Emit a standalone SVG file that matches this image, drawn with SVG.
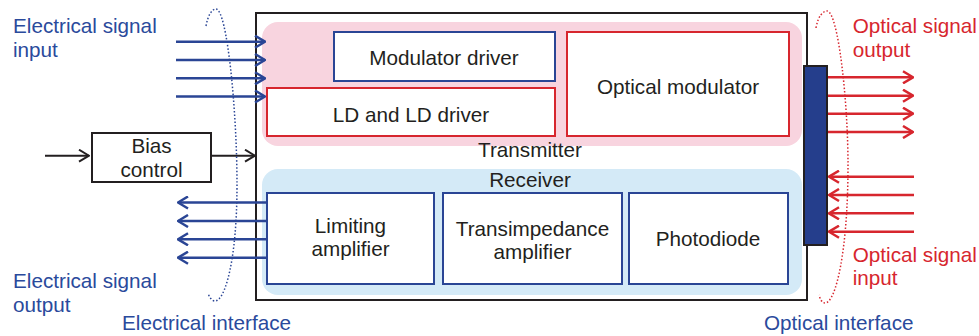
<svg xmlns="http://www.w3.org/2000/svg" width="979" height="336" viewBox="0 0 979 336">
<style>
text{font-family:"Liberation Sans",Arial,Helvetica,sans-serif;font-size:20.7px}
.k{fill:#231f20}
.bt{fill:#2a4a9c}
.rt{fill:#d7262e}
.bx{fill:#fff;stroke-width:2}
.bb{stroke:#2a4595}
.rb{stroke:#d7262e}
.ab{stroke:#2a4595;stroke-width:2.5;fill:none}
.ar{stroke:#d7262e;stroke-width:2.5;fill:none}
.ak{stroke:#231f20;stroke-width:2;fill:none}
.dot{fill:none;stroke-width:1.5;stroke-dasharray:1.5 2}
</style>
<defs>
<marker id="mb" viewBox="0 0 12 14" refX="11" refY="7" markerWidth="12" markerHeight="14" markerUnits="userSpaceOnUse" orient="auto"><path d="M1,1 L11,7 L1,13" fill="none" stroke="#2a4595" stroke-width="2.5"/></marker>
<marker id="mr" viewBox="0 0 12 14" refX="11" refY="7" markerWidth="12" markerHeight="14" markerUnits="userSpaceOnUse" orient="auto"><path d="M1,1 L11,7 L1,13" fill="none" stroke="#d7262e" stroke-width="2.5"/></marker>
<marker id="mk" viewBox="0 0 12 14" refX="11" refY="7" markerWidth="12" markerHeight="14" markerUnits="userSpaceOnUse" orient="auto"><path d="M1,1 L11,7 L1,13" fill="none" stroke="#231f20" stroke-width="2"/></marker>
</defs>
<rect width="979" height="336" fill="#fff"/>

<g id="module">
<rect x="256" y="13" width="551" height="287" fill="#fff" stroke="#231f20" stroke-width="2"/>
</g>

<g id="transmitter">
<rect x="262" y="22" width="540" height="124" rx="16" fill="#f8d4df"/>
<text class="k" x="530" y="157" text-anchor="middle">Transmitter</text>
</g>

<g id="receiver">
<rect x="262" y="169" width="540" height="126" rx="16" fill="#d4eaf7"/>
<text class="k" x="530" y="187" text-anchor="middle">Receiver</text>
</g>

<g id="modulator-driver">
<rect class="bx bb" x="334" y="32" width="221" height="49"/>
<text class="k" x="444" y="65" text-anchor="middle">Modulator driver</text>
</g>

<g id="ld-driver">
<rect class="bx rb" x="267" y="88" width="288" height="48"/>
<text class="k" x="411" y="122" text-anchor="middle">LD and LD driver</text>
</g>

<g id="optical-modulator">
<rect class="bx rb" x="567" y="32" width="222" height="104"/>
<text class="k" x="678" y="94" text-anchor="middle">Optical modulator</text>
</g>

<g id="limiting-amplifier">
<rect class="bx bb" x="267" y="193" width="167" height="91"/>
<text class="k" x="350.5" y="233" text-anchor="middle">Limiting</text>
<text class="k" x="350.5" y="256" text-anchor="middle">amplifier</text>
</g>

<g id="transimpedance-amplifier">
<rect class="bx bb" x="443" y="193" width="179" height="91"/>
<text class="k" x="532.5" y="236" text-anchor="middle">Transimpedance</text>
<text class="k" x="532.5" y="259" text-anchor="middle">amplifier</text>
</g>

<g id="photodiode">
<rect class="bx bb" x="629" y="193" width="159" height="91"/>
<text class="k" x="708" y="246" text-anchor="middle">Photodiode</text>
</g>

<g id="bias-control">
<rect x="92" y="133" width="119" height="49" fill="#fff" stroke="#231f20" stroke-width="2"/>
<text class="k" x="151.5" y="153" text-anchor="middle">Bias</text>
<text class="k" x="151.5" y="176.5" text-anchor="middle">control</text>
</g>

<g id="optical-connector">
<rect x="804" y="66" width="23" height="179" fill="#253e8c" stroke="#231f20" stroke-width="2"/>
</g>

<g id="connectors">
<path class="ab" d="M176,41.7H265" marker-end="url(#mb)"/>
<path class="ab" d="M176,60H265" marker-end="url(#mb)"/>
<path class="ab" d="M176,78.3H265" marker-end="url(#mb)"/>
<path class="ab" d="M176,96.5H265" marker-end="url(#mb)"/>
<path class="ab" d="M267,202.5H178" marker-end="url(#mb)"/>
<path class="ab" d="M267,221H178" marker-end="url(#mb)"/>
<path class="ab" d="M267,239.3H178" marker-end="url(#mb)"/>
<path class="ab" d="M267,257.7H178" marker-end="url(#mb)"/>
<path class="ak" d="M45,155.7H89" marker-end="url(#mk)"/>
<path class="ak" d="M212,155.7H255" marker-end="url(#mk)"/>
<path class="ar" d="M828,77.3H913" marker-end="url(#mr)"/>
<path class="ar" d="M828,95.7H913" marker-end="url(#mr)"/>
<path class="ar" d="M828,113.7H913" marker-end="url(#mr)"/>
<path class="ar" d="M828,132H913" marker-end="url(#mr)"/>
<path class="ar" d="M914,176.7H829" marker-end="url(#mr)"/>
<path class="ar" d="M914,195H829" marker-end="url(#mr)"/>
<path class="ar" d="M914,213.3H829" marker-end="url(#mr)"/>
<path class="ar" d="M914,231.7H829" marker-end="url(#mr)"/>
</g>

<g id="electrical-interface">
<path class="dot" stroke="#2a4595" d="M206,26 C208,15 212,9 216,9 C227,9 237,110 237,185 C237,260 225,301 215,301 C212,301 209,297 208,293"/>
<text class="bt" x="122" y="330">Electrical interface</text>
</g>

<g id="optical-interface">
<path class="dot" stroke="#d7262e" d="M816,28 C818,16 823,11 827,11 C838,11 848,100 848,165 C848,250 836,303 825,303 C822,303 820,299 819,295"/>
<text class="bt" x="764" y="330">Optical interface</text>
</g>

<g id="labels">
<text class="bt" x="13" y="33.3">Electrical signal</text>
<text class="bt" x="13" y="56.7">input</text>
<text class="bt" x="13" y="288.3">Electrical signal</text>
<text class="bt" x="13" y="311.7">output</text>
<text class="rt" x="852.7" y="33.3">Optical signal</text>
<text class="rt" x="852.7" y="56.5">output</text>
<text class="rt" x="852.7" y="261.7">Optical signal</text>
<text class="rt" x="852.7" y="285">input</text>
</g>
</svg>
